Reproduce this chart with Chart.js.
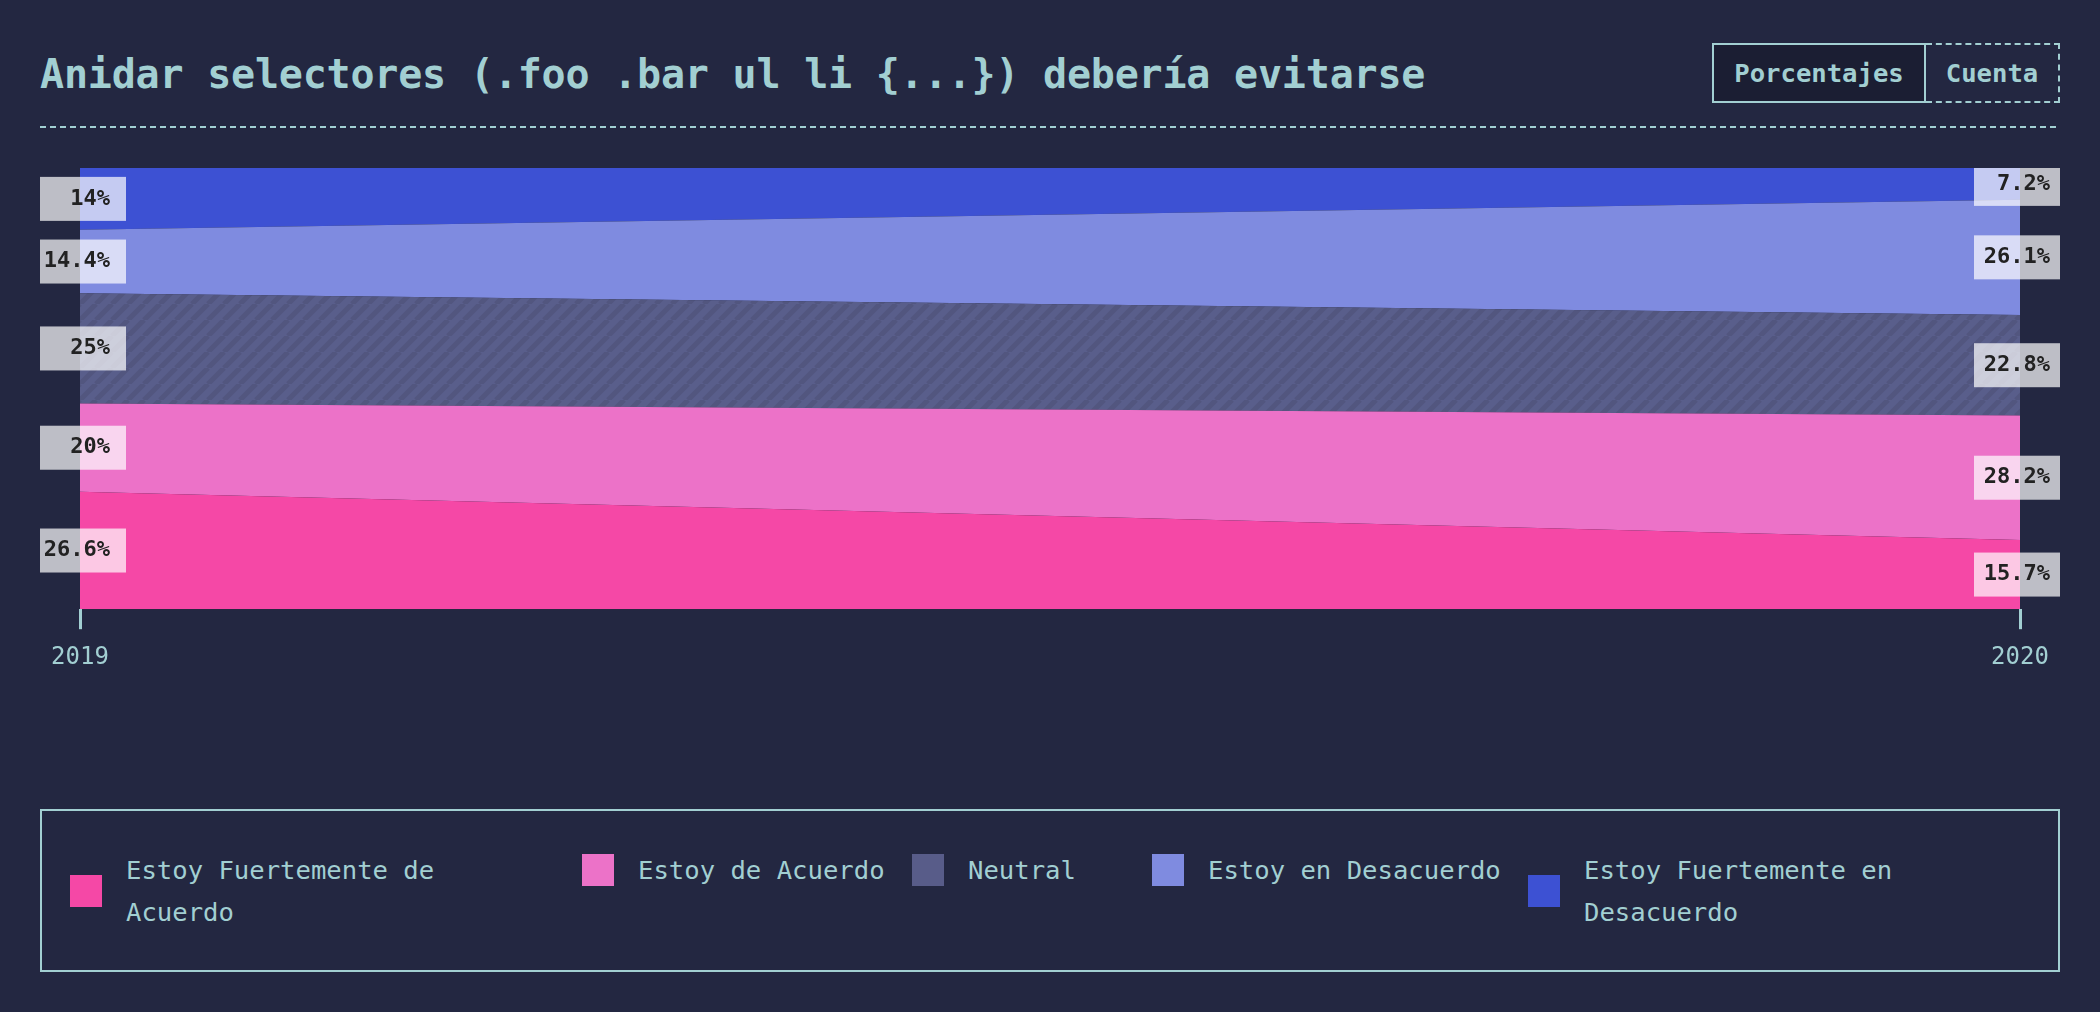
<!DOCTYPE html>
<html>
<head>
<meta charset="utf-8">
<script src="https://cdn.jsdelivr.net/npm/chart.js@4"></script>
<style>
  html, body { margin: 0; padding: 0; }
  body { width: 2100px; height: 1012px; background: #232741; position: relative; overflow: hidden;
         font-family: "DejaVu Sans Mono", "Liberation Mono", monospace; color: #a2cfd2; }
  #title { position: absolute; left: 40px; top: 50px; font-size: 40px; font-weight: bold; line-height: 48px; white-space: nowrap; letter-spacing: -0.2px; }
  #buttons { position: absolute; left: 1712px; top: 43px; display: flex; height: 60px; }
  .btn { box-sizing: border-box; height: 60px; font-size: 25.6px; font-weight: bold; display: flex; align-items: center; justify-content: center; }
  #btnPct { width: 214px; border: 2px solid #a2cfd2; background: #1b1e33; }
  #btnCnt { width: 134px; border: 2px dashed #a2cfd2; border-left: none; }
  #rule { position: absolute; left: 40px; top: 126px; width: 2020px; height: 2px;
          background: repeating-linear-gradient(to right, #a2cfd2 0 6px, transparent 6px 10px); }
  #chartWrap { position: absolute; left: 0; top: 0; width: 2100px; height: 700px; }
  #legend { position: absolute; left: 40px; top: 809px; width: 2020px; height: 163px; box-sizing: border-box;
            border: 2px solid #a2cfd2; display: flex; align-items: center; padding-left: 28px; }
  #legendRow { display: flex; align-items: flex-start; }
  .item { display: flex; align-items: center; flex: none; }
  .sw { width: 32px; height: 32px; margin-right: 24px; flex: none; }
  .lt { max-width: 400px; font-size: 25.6px; line-height: 42px; }
</style>
</head>
<body>
<div id="title">Anidar selectores (.foo .bar ul li {...}) debería evitarse</div>
<div id="buttons"><div class="btn" id="btnPct">Porcentajes</div><div class="btn" id="btnCnt">Cuenta</div></div>
<div id="rule"></div>
<div id="chartWrap"><canvas id="c" width="2100" height="700"></canvas></div>
<div id="legend"><div id="legendRow"></div></div>
<script>
const categories = ['2019', '2020'];
const seriesNames = ['Estoy Fuertemente de Acuerdo', 'Estoy de Acuerdo', 'Neutral', 'Estoy en Desacuerdo', 'Estoy Fuertemente en Desacuerdo'];
const fuertementeAcuerdo = [26.6, 15.7];
const deAcuerdo = [20, 28.2];
const neutral = [25, 22.8];
const desacuerdo = [14.4, 26.1];
const fuertementeDesacuerdo = [14, 7.2];
const seriesValues = [fuertementeAcuerdo, deAcuerdo, neutral, desacuerdo, fuertementeDesacuerdo];
const seriesColors = ['#f548a6', '#ec72c8', '#585c89', '#7f8be0', '#3d51d3'];

const TEAL = '#a2cfd2';

function hatch(base, stripe) {
  const s = 16;
  const c = document.createElement('canvas');
  c.width = s; c.height = s;
  const g = c.getContext('2d');
  g.fillStyle = base; g.fillRect(0, 0, s, s);
  g.strokeStyle = stripe; g.lineWidth = 5;
  g.beginPath();
  for (let k = -1; k <= 1; k++) {
    g.moveTo(k * s, s); g.lineTo(k * s + s, 0);
  }
  g.stroke();
  return document.getElementById('c').getContext('2d').createPattern(c, 'repeat');
}

const fills = seriesColors.map((col, i) => i === 2 ? hatch('#595e8b', '#52567f') : col);

const datasets = seriesNames.map((name, i) => ({
  label: name,
  data: seriesValues[i],
  backgroundColor: fills[i],
  borderColor: seriesColors[i],
  borderWidth: 0,
  pointRadius: 0,
  pointHoverRadius: 0,
  tension: 0,
  fill: i === 0 ? 'origin' : '-1'
}));

const labelPlugin = {
  id: 'segLabels',
  afterDatasetsDraw(chart) {
    const ctx = chart.ctx;
    const area = chart.chartArea;
    const yScale = chart.scales.y;
    ctx.save();
    chart.data.datasets.forEach((ds, i) => {
      const meta = chart.getDatasetMeta(i);
      meta.data.forEach((pt, j) => {
        const top = pt.y;
        const base = i === 0 ? yScale.getPixelForValue(0) : chart.getDatasetMeta(i - 1).data[j].y;
        const cy = (top + base) / 2;
        const x = pt.x;
        let bl, br;
        if (j === 0) { bl = x - 40; br = x + 46; } else { bl = x - 46; br = x + 40; }
        let bt = cy - 22, bb = cy + 22;
        bt = Math.max(bt, area.top); bb = Math.min(bb, area.bottom);
        ctx.fillStyle = 'rgba(255,255,255,0.7)';
        ctx.fillRect(bl, bt, br - bl, bb - bt);
        ctx.fillStyle = '#222222';
        ctx.font = 'bold 22px "DejaVu Sans Mono", monospace';
        ctx.textAlign = 'right';
        ctx.textBaseline = 'middle';
        ctx.fillText(ds.data[j] + '%', x + 30, cy);
      });
    });
    ctx.restore();
  }
};

new Chart(document.getElementById('c'), {
  type: 'line',
  data: { labels: categories, datasets },
  options: {
    responsive: false,
    animation: false,
    devicePixelRatio: 1,
    layout: { padding: { left: 80, right: 80, top: 168, bottom: 14 } },
    plugins: { legend: { display: false }, tooltip: { enabled: false } },
    elements: { line: { borderWidth: 0 } },
    scales: {
      x: {
        offset: false,
        grid: { display: true, drawOnChartArea: false, drawTicks: true, tickLength: 20, tickWidth: 3, tickColor: TEAL, color: TEAL },
        border: { display: false },
        ticks: { color: TEAL, font: { family: '"DejaVu Sans Mono", monospace', size: 24 }, padding: 14, maxRotation: 0 }
      },
      y: {
        display: false,
        stacked: true,
        min: 0, max: 100
      }
    }
  },
  plugins: [labelPlugin]
});

const row = document.getElementById('legendRow');
const itemWidths = [512, 330, 240, 376, 480];
seriesNames.forEach((name, i) => {
  const it = document.createElement('div');
  it.className = 'item';
  it.style.width = itemWidths[i] + 'px';
  const sw = document.createElement('div');
  sw.className = 'sw';
  sw.style.background = seriesColors[i];
  const t = document.createElement('div');
  t.className = 'lt';
  t.textContent = name;
  it.appendChild(sw); it.appendChild(t);
  row.appendChild(it);
});
</script>
</body>
</html>
